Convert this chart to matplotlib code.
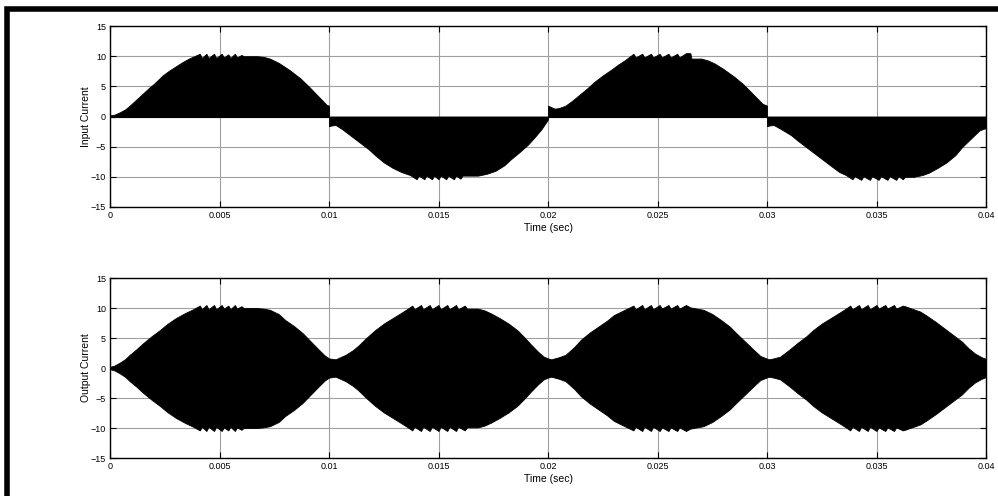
import matplotlib
matplotlib.use("Agg")
import matplotlib.pyplot as plt
from matplotlib.patches import Rectangle

plt.rcParams['font.family'] = ['Liberation Sans', 'DejaVu Sans']

# ---------------- data (envelopes) ----------------
# Input current: signed envelope of the switched waveform (fill from 0 to it)
in_t = [0.0, 0.0002, 0.00045, 0.0007, 0.0009, 0.0012, 0.0015, 0.0018, 0.002, 0.0024,
        0.0027, 0.003, 0.0033, 0.0036,
        0.0041, 0.0042, 0.0044, 0.0045, 0.00475, 0.00485, 0.0051, 0.0052,
        0.0054, 0.0055, 0.0057, 0.0058, 0.0060, 0.0061,
        0.0067, 0.0070, 0.0073, 0.0077, 0.0082, 0.0087, 0.0091, 0.0095, 0.0099, 0.0100,
        0.0100, 0.0101, 0.0103, 0.0106, 0.0110, 0.0114, 0.0118, 0.0121, 0.0125, 0.0129,
        0.0133, 0.0137,
        0.0140, 0.0141, 0.01435, 0.01445, 0.0147, 0.0148, 0.0150, 0.0151,
        0.01535, 0.01545, 0.0157, 0.0158, 0.0160, 0.0161,
        0.0168, 0.0172, 0.0176, 0.0180, 0.0183, 0.0187, 0.0191, 0.0194, 0.0197, 0.0200,
        0.0200, 0.0203, 0.0205, 0.0208, 0.0211, 0.0214, 0.0218, 0.0221, 0.0225, 0.0229,
        0.0232, 0.0235,
        0.0239, 0.0240, 0.0243, 0.0244, 0.0247, 0.0248, 0.0251, 0.0252,
        0.0255, 0.0256, 0.0259, 0.0260, 0.0263, 0.0265, 0.02655,
        0.0270, 0.0273, 0.0276, 0.0280, 0.0285, 0.0289, 0.0292, 0.0295, 0.0298, 0.0300,
        0.0300, 0.0301, 0.0303, 0.0306, 0.0311, 0.0314, 0.0318, 0.0322, 0.0326, 0.0330,
        0.0333, 0.0336,
        0.0339, 0.0340, 0.0343, 0.0344, 0.0347, 0.0348, 0.0351, 0.0352,
        0.0355, 0.0356, 0.0359, 0.0360, 0.0362, 0.0363,
        0.0367, 0.0371, 0.0374, 0.0378, 0.0382, 0.0386, 0.0389, 0.0393, 0.0397, 0.0400]
in_v = [0.2, 0.3, 0.7, 1.2, 1.8, 2.8, 3.8, 4.8, 5.4, 6.8,
        7.6, 8.3, 9.0, 9.6,
        10.4, 9.7, 10.4, 9.7, 10.4, 9.7, 10.4, 9.8,
        10.3, 9.7, 10.4, 9.8, 10.2, 10.0,
        10.0, 9.9, 9.6, 8.9, 7.7, 6.3, 4.9, 3.4, 1.9, 1.8,
        -1.6, -1.5, -1.4, -2.1, -3.2, -4.3, -5.4, -6.4, -7.6, -8.5,
        -9.2, -9.7,
        -10.4, -9.8, -10.4, -9.8, -10.4, -9.8, -10.4, -9.8,
        -10.4, -9.8, -10.4, -9.8, -10.3, -9.8,
        -9.8, -9.5, -9.0, -8.1, -7.1, -5.9, -4.6, -3.4, -2.1, -0.5,
        1.8, 1.3, 1.4, 1.8, 2.6, 3.5, 4.7, 5.7, 6.8, 7.8,
        8.6, 9.3,
        10.4, 9.8, 10.4, 9.8, 10.4, 9.8, 10.4, 9.8,
        10.4, 9.8, 10.4, 9.8, 10.5, 10.5, 9.6,
        9.6, 9.3, 8.8, 7.9, 6.6, 5.4, 4.3, 3.2, 2.1, 1.8,
        -1.6, -1.5, -1.4, -2.0, -3.1, -4.0, -5.1, -6.2, -7.3, -8.4,
        -9.2, -9.7,
        -10.4, -9.9, -10.5, -9.9, -10.5, -9.9, -10.5, -9.9,
        -10.5, -9.9, -10.5, -9.9, -10.4, -10.0,
        -10.0, -9.7, -9.3, -8.5, -7.6, -6.4, -5.1, -3.7, -2.3, -1.9]

# Output current: magnitude of the +/- envelope
out_t = [0.0, 0.0002, 0.00045, 0.0007, 0.0009, 0.0012, 0.0015, 0.0019, 0.00227, 0.0026,
         0.003, 0.0034, 0.0038,
         0.0041, 0.0042, 0.0044, 0.0045, 0.00475, 0.00485, 0.0051, 0.0052,
         0.0054, 0.0055, 0.0057, 0.0058, 0.0060, 0.0061,
         0.0067, 0.0070, 0.0073, 0.0077, 0.0080, 0.0084, 0.0088, 0.0092, 0.00955, 0.0098,
         0.0100, 0.0103,
         0.01076, 0.0111, 0.01136, 0.0117, 0.0121, 0.0125, 0.0129, 0.0133, 0.0136,
         0.0138, 0.0139, 0.0142, 0.0143, 0.0146, 0.0147, 0.0150, 0.0151,
         0.0154, 0.0155, 0.0158, 0.0159, 0.0162, 0.0163,
         0.0168, 0.0171, 0.0174, 0.0178, 0.0182, 0.0186, 0.0189, 0.0192, 0.01955, 0.0198,
         0.0200, 0.02015,
         0.0205, 0.0208, 0.0212, 0.0215, 0.0219, 0.0223, 0.0227, 0.0230, 0.0235,
         0.0239, 0.0240, 0.0243, 0.0244, 0.0247, 0.0248, 0.0251, 0.0252,
         0.0255, 0.0256, 0.0259, 0.0260, 0.0263, 0.0265,
         0.0271, 0.0275, 0.0279, 0.0283, 0.0286, 0.0290, 0.0294, 0.0297, 0.03008,
         0.0303, 0.0306, 0.0310, 0.0314, 0.0318, 0.0321, 0.0325, 0.0329, 0.0333, 0.0336,
         0.0338, 0.0339, 0.0342, 0.0343, 0.0346, 0.0347, 0.0350, 0.0351,
         0.0354, 0.0355, 0.0358, 0.0359, 0.0362, 0.0363,
         0.0370, 0.0373, 0.0377, 0.0381, 0.0385, 0.0389, 0.0392, 0.0395, 0.0398, 0.0400]
out_v = [0.2, 0.4, 0.9, 1.5, 2.2, 3.1, 4.1, 5.3, 6.3, 7.3,
         8.3, 9.1, 9.8,
         10.4, 9.8, 10.5, 9.8, 10.5, 9.8, 10.5, 9.9,
         10.4, 9.8, 10.5, 9.9, 10.3, 10.0,
         10.0, 9.9, 9.7, 9.0, 8.0, 7.0, 5.8, 4.3, 3.0, 2.1,
         1.6, 1.45,
         2.2, 3.0, 3.8, 5.0, 6.3, 7.4, 8.3, 9.2, 9.9,
         10.4, 9.8, 10.5, 9.8, 10.5, 9.8, 10.5, 9.8,
         10.5, 9.8, 10.5, 9.8, 10.4, 9.9,
         9.9, 9.6, 9.1, 8.3, 7.4, 6.3, 5.2, 4.0, 2.7, 1.9,
         1.6, 1.45,
         1.8, 2.2, 3.5, 4.7, 5.9, 6.9, 7.9, 8.8, 9.7,
         10.4, 9.8, 10.5, 9.8, 10.5, 9.8, 10.5, 9.9,
         10.5, 9.9, 10.5, 9.9, 10.5, 10.1,
         9.7, 9.0, 8.0, 6.9, 5.8, 4.4, 3.0, 2.0, 1.45,
         1.6, 1.9, 3.0, 4.2, 5.3, 6.3, 7.4, 8.3, 9.2, 9.9,
         10.4, 9.8, 10.5, 9.8, 10.5, 9.8, 10.5, 9.9,
         10.5, 9.9, 10.5, 9.9, 10.4, 10.3,
         9.4, 8.7, 7.7, 6.6, 5.5, 4.4, 3.3, 2.4, 1.8, 1.5]

x_ticks = [0, 0.005, 0.01, 0.015, 0.02, 0.025, 0.03, 0.035, 0.04]
x_ticklabels = ['0', '0.005', '0.01', '0.015', '0.02', '0.025', '0.03', '0.035', '0.04']
y_ticks = [-15, -10, -5, 0, 5, 10, 15]
y_labels = ['Input Current', 'Output Current']
x_label = 'Time (sec)'

# ---------------- figure ----------------
W, H = 998, 496
fig = plt.figure(figsize=(W / 100, H / 100), dpi=100)
fig.patch.set_facecolor('white')

ax1 = fig.add_axes([110 / W, 1 - 207 / H, 876 / W, 181 / H])
ax2 = fig.add_axes([110 / W, 1 - 458 / H, 876 / W, 180 / H])

neg_out = [-v for v in out_v]

ax1.fill_between(in_t, 0, in_v, color='black', linewidth=0.6, edgecolor='black', zorder=3)
ax1.plot([0, 0.04], [0, 0], color='black', lw=0.8, zorder=3)
ax2.fill_between(out_t, neg_out, out_v, color='black', linewidth=0.6, edgecolor='black', zorder=3)

for ax, lab in zip([ax1, ax2], y_labels):
    ax.set_xlim(0, 0.04)
    ax.set_ylim(-15, 15)
    ax.set_xticks(x_ticks)
    ax.set_xticklabels(x_ticklabels)
    ax.set_yticks(y_ticks)
    ax.set_axisbelow(True)
    ax.grid(True, color='#a0a0a0', linestyle='-', linewidth=0.8)
    ax.tick_params(direction='in', length=4, width=0.8, top=True, right=True,
                   labelsize=6.5, pad=3, colors='black')
    for s in ax.spines.values():
        s.set_linewidth(1.0)
        s.set_color('black')
        s.set_zorder(4)
    ax.set_xlabel(x_label, fontsize=7.5, labelpad=2)
    ax.set_ylabel(lab, fontsize=7.5)
    ax.yaxis.set_label_coords(-19 / 876, 0.5)

# thick frame around whole figure
fig.patches.append(Rectangle((6.5 / W, -0.05), 1.1, 1.05 - 9.5 / H,
                             transform=fig.transFigure, fill=False,
                             edgecolor='black', linewidth=4.0))

fig.savefig('out.png', dpi=100, facecolor='white')
